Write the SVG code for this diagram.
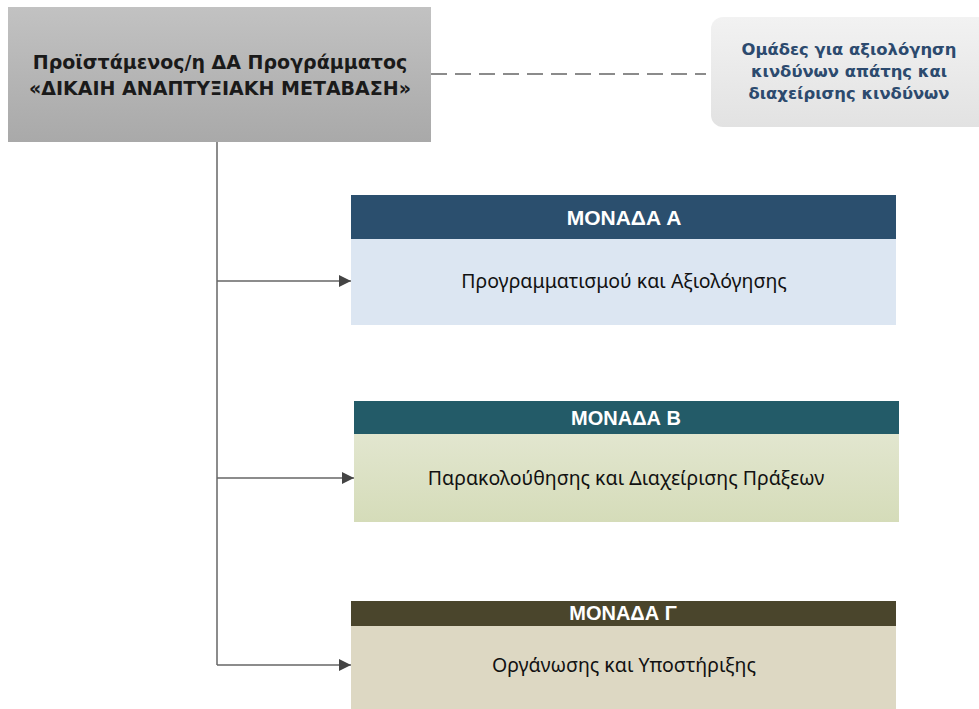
<svg xmlns="http://www.w3.org/2000/svg" width="979" height="709" viewBox="0 0 979 709">
<defs>
<linearGradient id="gTop" x1="0" y1="0" x2="0" y2="1"><stop offset="0" stop-color="#c2c2c2"/><stop offset="1" stop-color="#a9a9a9"/></linearGradient>
<linearGradient id="gSide" x1="0" y1="0" x2="0" y2="1"><stop offset="0" stop-color="#f2f2f2"/><stop offset="1" stop-color="#e2e2e2"/></linearGradient>
<linearGradient id="gB" x1="0" y1="0" x2="0" y2="1"><stop offset="0" stop-color="#e2e6cf"/><stop offset="1" stop-color="#d5dcb9"/></linearGradient>
<marker id="arr" markerWidth="12" markerHeight="12" refX="12" refY="6" orient="auto" markerUnits="userSpaceOnUse" viewBox="0 0 12 12"><path d="M0,0 L12,6 L0,12 z" fill="#444"/></marker>
</defs>
<style>
.title{font-family:"DejaVu Sans",Verdana,sans-serif;font-weight:bold;font-size:19px;fill:#1a1a1a;text-anchor:middle}
.side{font-family:"DejaVu Sans",Verdana,sans-serif;font-weight:bold;font-size:16.4px;fill:#2c4a6e;text-anchor:middle}
.hdr{font-family:"Liberation Sans",Arial,sans-serif;font-weight:bold;font-size:21px;fill:#ffffff;text-anchor:middle}
.hdrc{font-family:"Liberation Sans",Arial,sans-serif;font-weight:bold;font-size:20px;fill:#ffffff;text-anchor:middle}
.body{font-family:"Noto Sans",sans-serif;font-size:19.5px;fill:#111;text-anchor:middle}
.conn{stroke:#666;stroke-width:1.5;fill:none}
</style>
<g id="connectors">
<line class="conn" x1="431" y1="74" x2="706" y2="74" stroke="#777" stroke-width="2.5" stroke-dasharray="16,8"/>
<line class="conn" x1="217" y1="142" x2="217" y2="665"/>
<line class="conn" x1="217" y1="281" x2="351" y2="281" marker-end="url(#arr)"/>
<line class="conn" x1="217" y1="478" x2="354" y2="478" marker-end="url(#arr)"/>
<line class="conn" x1="217" y1="665" x2="351" y2="665" marker-end="url(#arr)"/>
</g>
<g id="head">
<rect x="8" y="7" width="423" height="135" fill="url(#gTop)"/>
<text class="title" x="220" y="69">Προϊστάμενος/η ΔΑ Προγράμματος</text>
<text class="title" x="220" y="95">«ΔΙΚΑΙΗ ΑΝΑΠΤΥΞΙΑΚΗ ΜΕΤΑΒΑΣΗ»</text>
</g>
<g id="risk">
<rect x="711" y="17" width="290" height="110" rx="12" fill="url(#gSide)"/>
<text class="side" x="849" y="55">Ομάδες για αξιολόγηση</text>
<text class="side" x="849" y="77">κινδύνων απάτης και</text>
<text class="side" x="849" y="99">διαχείρισης κινδύνων</text>
</g>
<g id="unitA">
<rect x="351" y="239" width="545" height="86" fill="#dce6f2"/>
<rect x="351" y="195" width="545" height="44" fill="#2b4f6e"/>
<text class="hdr" x="624" y="225">ΜΟΝΑΔΑ Α</text>
<text class="body" x="624" y="288">Προγραμματισμού και Αξιολόγησης</text>
</g>
<g id="unitB">
<rect x="354" y="434" width="545" height="88" fill="url(#gB)"/>
<rect x="354" y="401" width="545" height="33" fill="#235b68"/>
<text class="hdrc" x="626" y="425">ΜΟΝΑΔΑ Β</text>
<text class="body" x="626" y="485">Παρακολούθησης και Διαχείρισης Πράξεων</text>
</g>
<g id="unitC">
<rect x="351" y="626" width="545" height="83" fill="#ddd8c3"/>
<rect x="351" y="601" width="545" height="25" fill="#4a452c"/>
<text class="hdrc" x="623" y="620">ΜΟΝΑΔΑ Γ</text>
<text class="body" x="624" y="672">Οργάνωσης και Υποστήριξης</text>
</g>
</svg>
